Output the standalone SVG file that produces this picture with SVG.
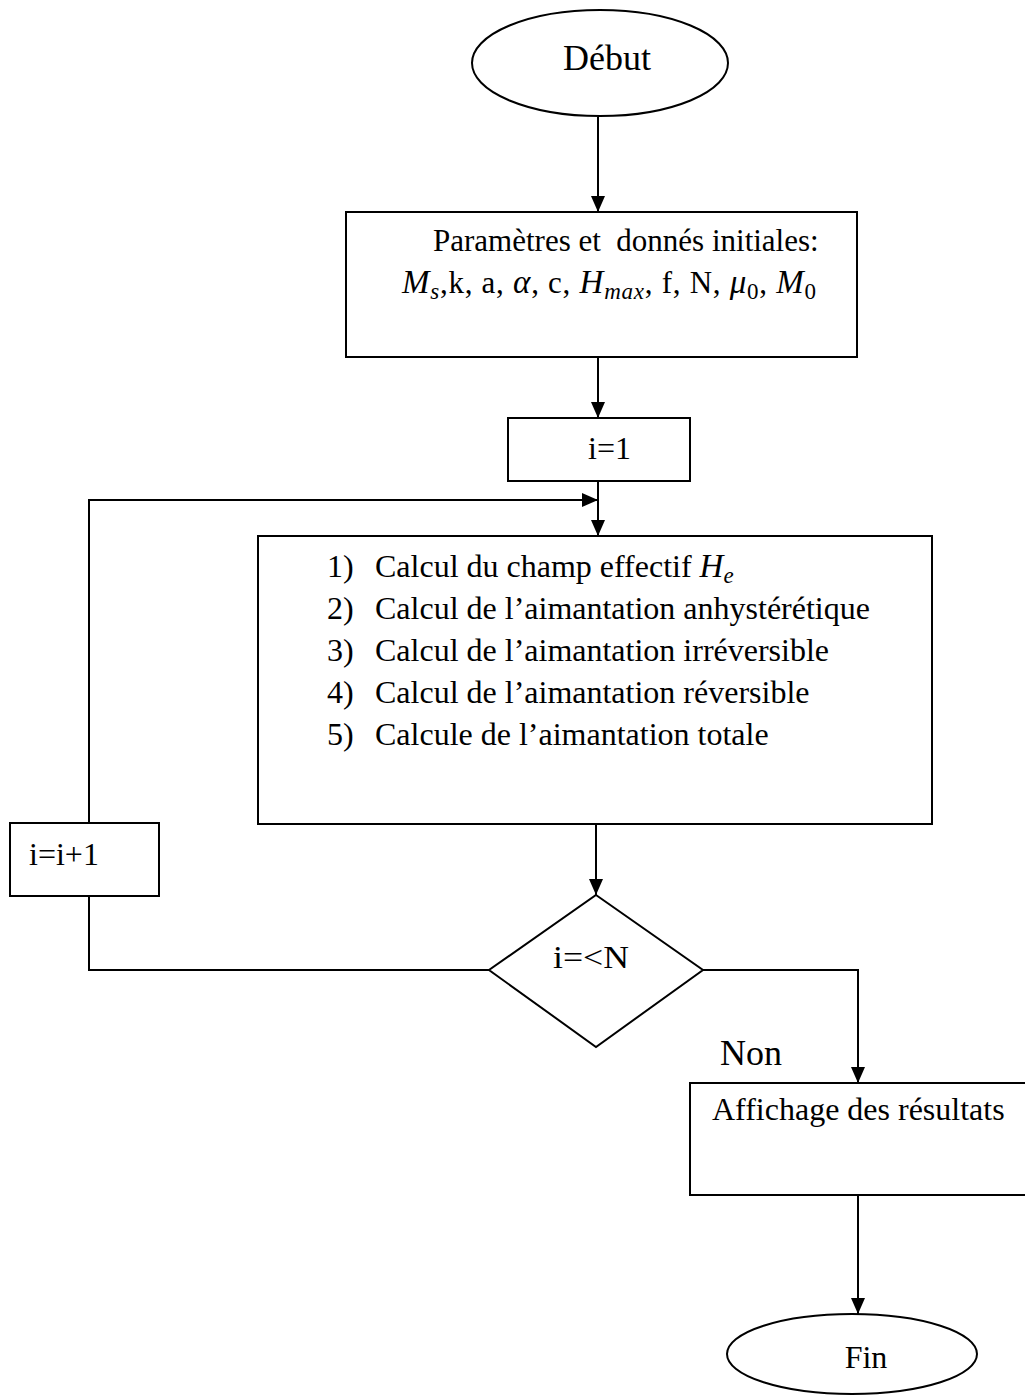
<svg xmlns="http://www.w3.org/2000/svg" width="1025" height="1396" viewBox="0 0 1025 1396">
<style>
.s{fill:#fff;stroke:#000;stroke-width:2}
.t{font-family:"Liberation Serif","Times New Roman",serif;font-size:32px;fill:#000}
.p{font-size:31px}
.m{font-style:italic;font-size:33px}
.sub{font-size:23px}
.big{font-size:36px}
.c{fill:none;stroke:#000;stroke-width:2}
</style>
<defs>
<marker id="ah" markerUnits="userSpaceOnUse" markerWidth="16" markerHeight="14" refX="16" refY="7" orient="auto">
<path d="M0,0 L16,7 L0,14 Z" fill="#000"/>
</marker>
</defs>
<rect width="1025" height="1396" fill="#fff"/>
<g id="connectors">
<path class="c" d="M598,117 V212" marker-end="url(#ah)"/>
<path class="c" d="M598,357 V418" marker-end="url(#ah)"/>
<path class="c" d="M598,481 V536" marker-end="url(#ah)"/>
<path class="c" d="M489,970 H89 V896"/>
<path class="c" d="M89,823 V500 H598" marker-end="url(#ah)"/>
<path class="c" d="M596,824 V895" marker-end="url(#ah)"/>
<path class="c" d="M703,970 H858 V1083" marker-end="url(#ah)"/>
<path class="c" d="M858,1195 V1314" marker-end="url(#ah)"/>
</g>
<g id="debut">
<ellipse class="s" cx="600" cy="63" rx="128" ry="53"/>
<text class="t big" x="607" y="70" text-anchor="middle">Début</text>
</g>
<g id="params">
<rect class="s" x="346" y="212" width="511" height="145"/>
<text class="t p" x="433" y="251" xml:space="preserve">Paramètres et  donnés initiales:</text>
<text class="t p" x="402" y="293" textLength="414" lengthAdjust="spacing"><tspan class="m">M</tspan><tspan class="m sub" dy="6">s</tspan><tspan dy="-6">,k, a, </tspan><tspan class="m">α</tspan><tspan>, c, </tspan><tspan class="m">H</tspan><tspan class="m sub" dy="6">max</tspan><tspan dy="-6">, f, N, </tspan><tspan class="m">μ</tspan><tspan class="sub" dy="6">0</tspan><tspan dy="-6">, </tspan><tspan class="m">M</tspan><tspan class="sub" dy="6">0</tspan></text>
</g>
<g id="init">
<rect class="s" x="508" y="418" width="182" height="63"/>
<text class="t" x="588" y="459">i=1</text>
</g>
<g id="calcul">
<rect class="s" x="258" y="536" width="674" height="288"/>
<text class="t" x="327" y="577">1)</text>
<text class="t" x="375" y="577">Calcul du champ effectif <tspan class="m">H</tspan><tspan class="m sub" dy="6">e</tspan></text>
<text class="t" x="327" y="619">2)</text>
<text class="t" x="375" y="619">Calcul de l’aimantation anhystérétique</text>
<text class="t" x="327" y="661">3)</text>
<text class="t" x="375" y="661">Calcul de l’aimantation irréversible</text>
<text class="t" x="327" y="703">4)</text>
<text class="t" x="375" y="703">Calcul de l’aimantation réversible</text>
<text class="t" x="327" y="745">5)</text>
<text class="t" x="375" y="745">Calcule de l’aimantation totale</text>
</g>
<g id="incr">
<rect class="s" x="10" y="823" width="149" height="73"/>
<text class="t" x="29" y="865">i=i+1</text>
</g>
<g id="test">
<polygon class="s" points="596,895 703,970 596,1047 489,970"/>
<text class="t" x="553" y="968" textLength="76" lengthAdjust="spacingAndGlyphs">i=&lt;N</text>
</g>
<g id="non-label">
<text class="t big" x="720" y="1065">Non</text>
</g>
<g id="affichage">
<rect class="s" x="690" y="1083" width="345" height="112"/>
<text class="t" x="712" y="1120">Affichage des résultats</text>
</g>
<g id="fin">
<ellipse class="s" cx="852" cy="1354" rx="125" ry="40"/>
<text class="t" x="866" y="1368" text-anchor="middle">Fin</text>
</g>
</svg>
